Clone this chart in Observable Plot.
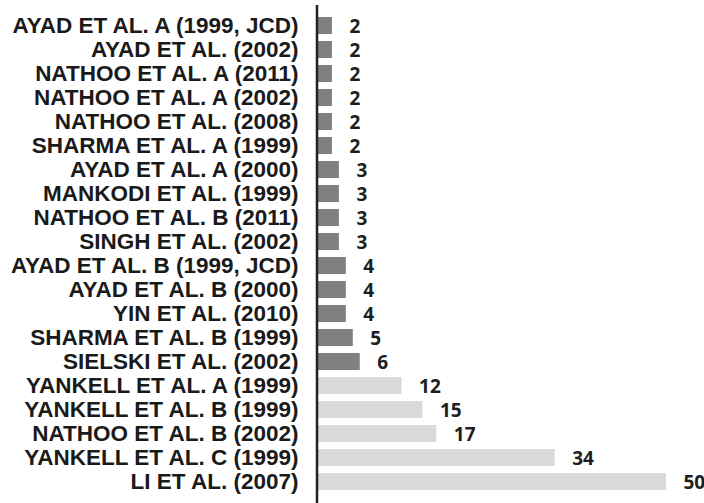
<!DOCTYPE html>
<html>
<head>
<meta charset="utf-8">
<script src="https://cdn.jsdelivr.net/npm/d3@7"></script>
<script src="https://cdn.jsdelivr.net/npm/@observablehq/plot@0.6"></script>
<style>
  html, body { margin: 0; padding: 0; background: #fff; }
  #chart svg { display: block; }
</style>
</head>
<body>
<div id="chart"></div>
<script>
const studies = [
  "AYAD ET AL. A (1999, JCD)",
  "AYAD ET AL. (2002)",
  "NATHOO ET AL. A (2011)",
  "NATHOO ET AL. A (2002)",
  "NATHOO ET AL. (2008)",
  "SHARMA ET AL. A (1999)",
  "AYAD ET AL. A (2000)",
  "MANKODI ET AL. (1999)",
  "NATHOO ET AL. B (2011)",
  "SINGH ET AL. (2002)",
  "AYAD ET AL. B (1999, JCD)",
  "AYAD ET AL. B (2000)",
  "YIN ET AL. (2010)",
  "SHARMA ET AL. B (1999)",
  "SIELSKI ET AL. (2002)",
  "YANKELL ET AL. A (1999)",
  "YANKELL ET AL. B (1999)",
  "NATHOO ET AL. B (2002)",
  "YANKELL ET AL. C (1999)",
  "LI ET AL. (2007)"
];
const values = [2, 2, 2, 2, 2, 2, 3, 3, 3, 3, 4, 4, 4, 5, 6, 12, 15, 17, 34, 50];
const groups = ["low","low","low","low","low","low","low","low","low","low","low","low","low","low","low","high","high","high","high","high"];

const data = studies.map((s, i) => ({study: s, value: values[i], group: groups[i]}));

const chart = Plot.plot({
  width: 704,
  height: 503,
  marginLeft: 318,
  marginRight: 38,
  marginTop: 5,
  marginBottom: 0,
  x: {domain: [0, 50], axis: null},
  y: {domain: studies, paddingInner: 0.28, paddingOuter: 0.14, label: null},
  color: {domain: ["low", "high"], range: ["#808080", "#d9d9d9"]},
  style: {background: "#fff"},
  marks: [
    Plot.barX(data, {x: "value", y: "study", fill: "group"}),
    Plot.text(data, {
      x: "value", y: "study", text: d => String(d.value),
      textAnchor: "start", dx: 17, dy: 1,
      fontFamily: "'Open Sans', sans-serif", fontWeight: 700, fontSize: 19, fill: "#1e1e1e"
    }),
    Plot.axisY({
      tickSize: 0, tickPadding: 20, label: null,
      fontFamily: "'Liberation Sans', Arial, sans-serif", fontWeight: "bold", fontSize: 22.5, fill: "#1a1a1a"
    }),
    Plot.ruleX([0], {dx: -1.5, stroke: "#222", strokeWidth: 2.5})
  ]
});
document.getElementById("chart").appendChild(chart);
</script>
</body>
</html>
